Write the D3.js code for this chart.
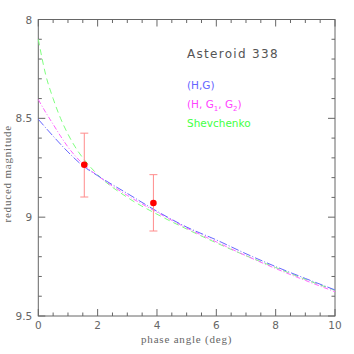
<!DOCTYPE html>
<html>
<head>
  <meta charset="utf-8">
  <script src="https://d3js.org/d3.v7.min.js"></script>
  <style>
    body { margin: 0; background: #fff; }
    text { fill: #666; }
  </style>
</head>
<body>
<div id="chart"></div>
<script>
  // observed points
  var obsPhase = [1.55, 3.88];
  var obsMag = [8.735, 8.928];
  var obsLo = [8.575, 8.785];
  var obsHi = [8.898, 9.07];

  // model curves
  var hgPhase = [0, 0.5, 1, 1.5, 2, 3, 4, 5, 6, 7, 8, 9, 10];
  var hgMag = [8.505, 8.59, 8.67, 8.74, 8.79, 8.88, 8.97, 9.05, 9.115, 9.185, 9.25, 9.31, 9.368];

  var g12Phase = [0, 0.25, 0.5, 0.75, 1, 1.5, 2, 3, 4, 5, 6, 7, 8, 9, 10];
  var g12Mag = [8.405, 8.47, 8.53, 8.59, 8.645, 8.73, 8.79, 8.89, 8.975, 9.055, 9.125, 9.195, 9.26, 9.32, 9.377];

  var shevPhase = [0, 0.25, 0.5, 0.75, 1, 1.33, 1.5, 2, 3, 4, 5, 6, 7, 8, 9, 10];
  var shevMag = [8.10, 8.28, 8.40, 8.50, 8.58, 8.665, 8.70, 8.785, 8.90, 8.985, 9.06, 9.13, 9.195, 9.255, 9.315, 9.37];

  var xTicks = [0, 2, 4, 6, 8, 10];
  var yTicks = [8, 8.5, 9, 9.5];

  var W = 354, H = 354;
  var margin = {top: 19.5, right: 19, bottom: 38, left: 38.3};
  var w = W - margin.left - margin.right,
      h = H - margin.top - margin.bottom;

  var svg = d3.select('#chart').append('svg')
    .attr('width', W).attr('height', H);
  var g = svg.append('g')
    .attr('transform', 'translate(' + margin.left + ',' + margin.top + ')');

  var x = d3.scaleLinear().domain([0, 10]).range([0, w]);
  var y = d3.scaleLinear().domain([8, 9.5]).range([0, h]);

  var axisCol = '#666';

  // frame
  g.append('rect').attr('width', w).attr('height', h)
    .attr('fill', 'none').attr('stroke', axisCol).attr('stroke-width', 1);

  // ticks pointing inward on all four sides
  var xMinor = d3.range(0, 10.01, 0.5);
  var yMinor = d3.range(8, 9.501, 0.1);
  function isMajorX(v) { return Math.abs(v / 2 - Math.round(v / 2)) < 1e-6; }
  function isMajorY(v) { return Math.abs(v * 2 - Math.round(v * 2)) < 1e-6; }

  var tg = g.append('g').attr('stroke', axisCol).attr('stroke-width', 1);
  xMinor.forEach(function(v) {
    var len = isMajorX(v) ? 7 : 3.5;
    tg.append('line').attr('x1', x(v)).attr('x2', x(v)).attr('y1', h).attr('y2', h - len);
    tg.append('line').attr('x1', x(v)).attr('x2', x(v)).attr('y1', 0).attr('y2', len);
  });
  yMinor.forEach(function(v) {
    var len = isMajorY(v) ? 7 : 3.5;
    tg.append('line').attr('y1', y(v)).attr('y2', y(v)).attr('x1', 0).attr('x2', len);
    tg.append('line').attr('y1', y(v)).attr('y2', y(v)).attr('x1', w).attr('x2', w - len);
  });

  // tick labels
  g.selectAll('.xl').data(xTicks).enter().append('text')
    .attr('x', d => x(d)).attr('y', h + 13)
    .attr('text-anchor', 'middle')
    .style('font', '10.5px "DejaVu Sans"')
    .text(d => d);
  g.selectAll('.yl').data(yTicks).enter().append('text')
    .attr('x', -6).attr('y', d => y(d) + 4)
    .attr('text-anchor', 'end')
    .style('font', '10.5px "DejaVu Sans"')
    .text(d => d);

  // axis titles
  g.append('text').attr('x', w / 2).attr('y', h + 27)
    .attr('text-anchor', 'middle')
    .style('font', '11px "Liberation Serif"').style('letter-spacing', '0.8px')
    .text('phase angle (deg)');
  svg.append('text')
    .attr('transform', 'translate(11,' + (margin.top + h / 2 + 6) + ') rotate(-90)')
    .attr('text-anchor', 'middle')
    .style('font', '11px "Liberation Serif"').style('letter-spacing', '0.8px')
    .text('reduced magnitude');

  // curves
  var line = d3.line()
    .x(d => x(d[0])).y(d => y(d[1]))
    .curve(d3.curveMonotoneX);
  var plot = g.append('g');
  function drawCurve(px, py, col, dash) {
    plot.append('path')
      .datum(px.map((p, i) => [p, py[i]]))
      .attr('d', line)
      .attr('fill', 'none').attr('stroke', col)
      .attr('stroke-width', 1).attr('stroke-dasharray', dash);
  }
  drawCurve(shevPhase, shevMag, '#7fff7f', '6,4');
  drawCurve(g12Phase, g12Mag, '#ff66ff', '5,2,1,2');
  drawCurve(hgPhase, hgMag, '#6666ff', '8,2,1,2');

  // error bars and points
  var eb = plot.append('g').attr('stroke', '#ff8c8c').attr('stroke-width', 1);
  obsPhase.forEach(function(p, i) {
    eb.append('line').attr('x1', x(p)).attr('x2', x(p)).attr('y1', y(obsLo[i])).attr('y2', y(obsHi[i]));
    eb.append('line').attr('x1', x(p) - 4).attr('x2', x(p) + 4).attr('y1', y(obsLo[i])).attr('y2', y(obsLo[i]));
    eb.append('line').attr('x1', x(p) - 4).attr('x2', x(p) + 4).attr('y1', y(obsHi[i])).attr('y2', y(obsHi[i]));
  });
  plot.selectAll('circle').data(obsPhase).enter().append('circle')
    .attr('cx', d => x(d)).attr('cy', (d, i) => y(obsMag[i]))
    .attr('r', 3.3).attr('fill', '#ff0000');

  // legend
  var lx = 187 - margin.left;
  g.append('text').attr('x', lx).attr('y', 58 - margin.top)
    .style('font', '12px "DejaVu Sans"').style('letter-spacing', '1.3px').style('fill', '#555')
    .text('Asteroid 338');
  g.append('text').attr('x', lx).attr('y', 89 - margin.top)
    .style('font', '10.5px "DejaVu Sans"').style('fill', '#6666ff')
    .text('(H,G)');
  var t2 = g.append('text').attr('x', lx).attr('y', 108 - margin.top)
    .style('font', '10.5px "DejaVu Sans"').style('fill', '#ff44ff');
  t2.append('tspan').text('(H, G');
  t2.append('tspan').attr('dy', 3).style('font-size', '7px').text('1');
  t2.append('tspan').attr('dy', -3).text(', G');
  t2.append('tspan').attr('dy', 3).style('font-size', '7px').text('2');
  t2.append('tspan').attr('dy', -3).text(')');
  g.append('text').attr('x', lx).attr('y', 127 - margin.top)
    .style('font', '10.5px "DejaVu Sans"').style('fill', '#44ff44')
    .text('Shevchenko');
</script>
</body>
</html>
